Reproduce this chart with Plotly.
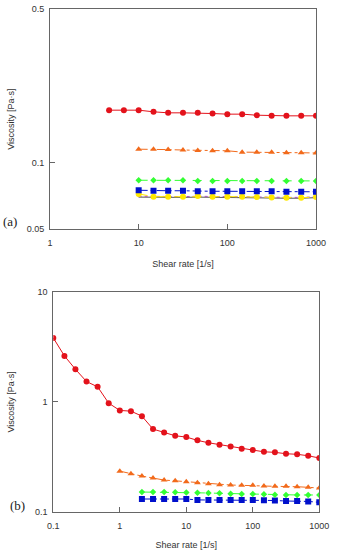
import plotly.graph_objects as go

# ---------------- data ----------------
# Panel (a)
a_x_red = [4.64, 6.81, 10, 14.7, 21.5, 31.6, 46.4, 68.1, 100, 147, 215, 316, 464, 681, 1000]
a_red = [0.1737, 0.1737, 0.1737, 0.1707, 0.1689, 0.1689, 0.1689, 0.1677, 0.1666, 0.1666, 0.1648, 0.1637, 0.1637, 0.1637, 0.1637]
a_x = [10, 14.7, 21.5, 31.6, 46.4, 68.1, 100, 147, 215, 316, 464, 681, 1000]
a_orange = [0.1155, 0.1155, 0.1150, 0.1145, 0.1140, 0.1136, 0.1136, 0.1120, 0.1120, 0.1120, 0.1113, 0.1113, 0.1110]
a_green = [0.0835, 0.0835, 0.0835, 0.0835, 0.0829, 0.0829, 0.0829, 0.0829, 0.0829, 0.0829, 0.0829, 0.0829, 0.0829]
a_blue = [0.0752, 0.0748, 0.0748, 0.0748, 0.0744, 0.0744, 0.0744, 0.0744, 0.0744, 0.0744, 0.0740, 0.0740, 0.0740]
a_gray = [0.0700, 0.0698, 0.0698, 0.0698, 0.0700, 0.0698, 0.0698, 0.0698, 0.0696, 0.0694, 0.0692, 0.0692, 0.0696]
a_purple = [0.0706, 0.0704, 0.0704, 0.0704, 0.0706, 0.0704, 0.0704, 0.0704, 0.0702, 0.0700, 0.0698, 0.0698, 0.0702]
a_yellow = [0.0724, 0.0703, 0.0703, 0.0703, 0.0708, 0.0703, 0.0703, 0.0703, 0.0700, 0.0698, 0.0696, 0.0696, 0.0700]

# Panel (b)
b_x_red = [0.1, 0.147, 0.215, 0.316, 0.464, 0.681, 1, 1.47, 2.15, 3.16, 4.64, 6.81, 10,
           14.7, 21.5, 31.6, 46.4, 68.1, 100, 147, 215, 316, 464, 681, 1000]
b_red = [3.82, 2.62, 1.98, 1.53, 1.37, 0.973, 0.835, 0.823, 0.741, 0.565, 0.527, 0.491, 0.478,
         0.446, 0.424, 0.407, 0.393, 0.374, 0.364, 0.351, 0.347, 0.337, 0.333, 0.323, 0.308]
b_x_orange = [1, 1.47, 2.15, 3.16, 4.64, 6.81, 10, 14.7, 21.5, 31.6, 46.4, 68.1, 100, 147, 215, 316, 464, 681, 1000]
b_orange = [0.234, 0.2216, 0.211, 0.2024, 0.194, 0.191, 0.1874, 0.1835, 0.1797, 0.176, 0.1749,
            0.1738, 0.1738, 0.1713, 0.1702, 0.1702, 0.1688, 0.1667, 0.1643]
b_x = [2.15, 3.16, 4.64, 6.81, 10, 14.7, 21.5, 31.6, 46.4, 68.1, 100, 147, 215, 316, 464, 681, 1000]
b_green = [0.151, 0.1508, 0.1508, 0.150, 0.1495, 0.149, 0.148, 0.147, 0.146, 0.145, 0.145, 0.144, 0.143, 0.142, 0.142, 0.142, 0.142]
b_blue = [0.1305, 0.1305, 0.1305, 0.1305, 0.1305, 0.1280, 0.1280, 0.1280, 0.1280, 0.1280, 0.1280, 0.1270, 0.1265, 0.1251, 0.1251, 0.1240, 0.1217]

x_ticks_a = [1, 10, 100, 1000]
x_labels_a = ["1", "10", "100", "1000"]
y_ticks_a = [0.05, 0.1, 0.5]
y_labels_a = ["0.05", "0.1", "0.5"]
x_ticks_b = [0.1, 1, 10, 100, 1000]
x_labels_b = ["0.1", "1", "10", "100", "1000"]
y_ticks_b = [0.1, 1, 10]
y_labels_b = ["0.1", "1", "10"]

RED = "#e3121b"
ORANGE = "#f26a1b"
GREEN = "#33ff33"
BLUE = "#0010cc"
YELLOW = "#ffe800"
GRAY = "#555555"
PURPLE = "#b04fc0"

fig = go.Figure()

def add(x, y, color, symbol, size, dash, xa, ya, name, lw=1):
    fig.add_trace(go.Scatter(
        x=x, y=y, mode="lines+markers", name=name, xaxis=xa, yaxis=ya,
        line=dict(color=color, width=lw, dash=dash),
        marker=dict(color=color, symbol=symbol, size=size, line=dict(width=0)),
        showlegend=False))

# panel a
add(a_x, a_gray, GRAY, "line-ew", 5, "solid", "x", "y", "a gray")
add(a_x, a_purple, PURPLE, "circle", 2, "dot", "x", "y", "a purple")
add(a_x, a_yellow, YELLOW, "circle", 6, "dash", "x", "y", "a yellow")
add(a_x, a_blue, BLUE, "square", 6, "dashdot", "x", "y", "a blue")
add(a_x, a_green, GREEN, "diamond", 5, "dash", "x", "y", "a green")
add(a_x, a_orange, ORANGE, "triangle-up", 6, "dashdot", "x", "y", "a orange")
add(a_x_red, a_red, RED, "circle", 6, "solid", "x", "y", "a red")

# panel b
add(b_x, b_blue, BLUE, "square", 6, "dashdot", "x2", "y2", "b blue")
add(b_x, b_green, GREEN, "diamond", 5, "dash", "x2", "y2", "b green")
add(b_x_orange, b_orange, ORANGE, "triangle-up", 6, "dashdot", "x2", "y2", "b orange")
add(b_x_red, b_red, RED, "circle", 6, "solid", "x2", "y2", "b red")

W, H = 337, 550

def px(x):
    return x / W

def py(y):
    return 1 - y / H

axis_common = dict(
    type="log", showgrid=False, zeroline=False, showline=True, linecolor="#666666",
    linewidth=1, mirror=True, ticks="inside", ticklen=5, tickcolor="#666666",
    automargin=False,
    tickfont=dict(family="Liberation Sans, Arial, sans-serif", size=9, color="#333333"),
)
title_font = dict(family="Liberation Sans, Arial, sans-serif", size=9, color="#333333")

fig.update_layout(
    width=W, height=H, margin=dict(l=0, r=0, t=0, b=0, autoexpand=False),
    paper_bgcolor="white", plot_bgcolor="white",
    xaxis=dict(axis_common, domain=[px(50), px(316)], range=[0, 3], anchor="y",
               tickvals=x_ticks_a, ticktext=x_labels_a, ticklabelstandoff=5,
               title=dict(text="Shear rate [1/s]", font=title_font, standoff=13)),
    yaxis=dict(axis_common, domain=[py(229.3), py(9)], range=[-1.30103, -0.30103], anchor="x",
               tickvals=y_ticks_a, ticktext=y_labels_a, ticklabelstandoff=3,
               title=dict(text="Viscosity [Pa·s]", font=title_font, standoff=10)),
    xaxis2=dict(axis_common, domain=[px(53.3), px(319.3)], range=[-1, 3], anchor="y2",
                tickvals=x_ticks_b, ticktext=x_labels_b, ticklabelstandoff=5,
                title=dict(text="Shear rate [1/s]", font=title_font, standoff=13)),
    yaxis2=dict(axis_common, domain=[py(511.7), py(292)], range=[-1, 1], anchor="x2",
                tickvals=y_ticks_b, ticktext=y_labels_b, ticklabelstandoff=3,
                title=dict(text="Viscosity [Pa·s]", font=title_font, standoff=18)),
    annotations=[
        dict(text="(a)", x=px(10), y=py(221), xref="paper", yref="paper", showarrow=False,
             xanchor="center", yanchor="middle",
             font=dict(family="Liberation Serif, Times New Roman, serif", size=13, color="#222222")),
        dict(text="(b)", x=px(17), y=py(505), xref="paper", yref="paper", showarrow=False,
             xanchor="center", yanchor="middle",
             font=dict(family="Liberation Serif, Times New Roman, serif", size=13, color="#222222")),
    ],
)

# remove the browser's default 8px page margin so the figure sits at the window corner
fig.write_html("out.html", config={"displayModeBar": False},
               post_script="document.body.style.margin='0';document.body.style.padding='0';")
